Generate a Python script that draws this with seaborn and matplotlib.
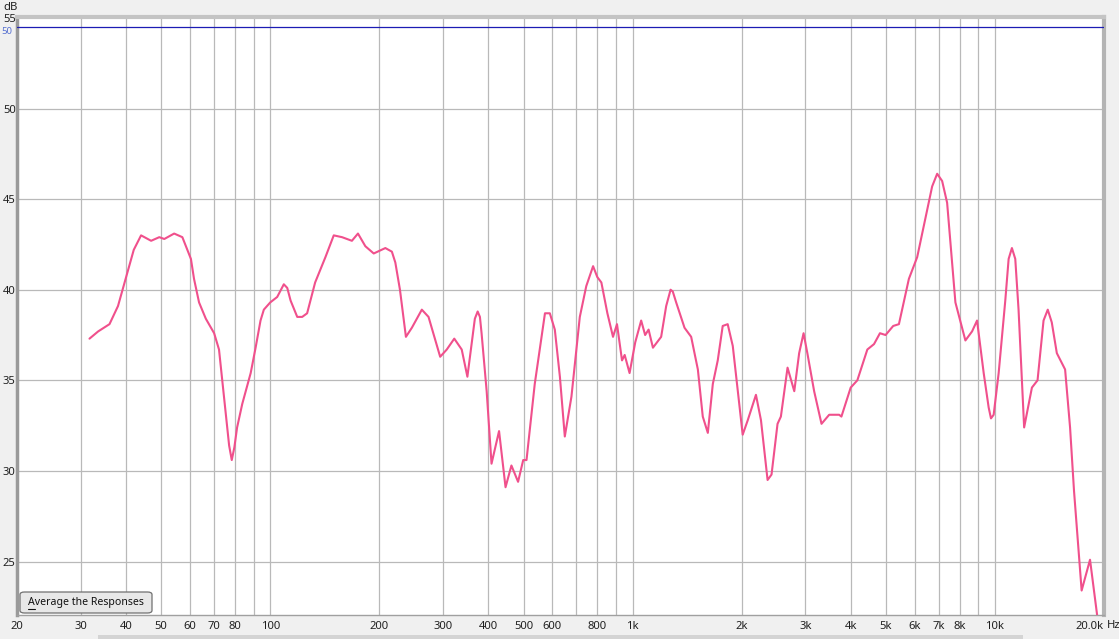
import numpy as np
import pandas as pd
import matplotlib
matplotlib.use("Agg")
import matplotlib.pyplot as plt
import seaborn as sns
from matplotlib.patches import FancyBboxPatch, Rectangle
from matplotlib.lines import Line2D
from matplotlib.ticker import FixedLocator

# ---- data ----
freq_hz = [31.7, 33.5, 36, 38, 40, 42, 44, 46.9, 49.4, 51, 54.3, 57.2, 60.4, 61.6, 63.6,
           66.4, 70, 72.2, 75.4, 77, 78.3, 79.6, 81, 83.7, 88.3, 91.1, 94, 96, 100,
           104.5, 109, 111.4, 113.8, 118.7, 122.5, 126.4, 133, 142, 149.7, 157.8, 168,
           174.6, 183, 193, 207.8, 216.6, 221.4, 228, 236.8, 245.9, 262, 273.4, 294.4,
           307, 322, 337.6, 350, 367, 373.6, 379, 383, 395.6, 408, 428, 446, 463, 483,
           499, 509.6, 537, 573, 591, 610, 630, 650, 678, 715, 745, 778, 799, 820, 852,
           883, 905.6, 935, 951, 981, 1017, 1056, 1083, 1107, 1138, 1199, 1238, 1273,
           1291, 1319, 1391, 1451, 1514, 1562, 1613, 1665, 1718, 1773, 1830, 1890, 2013,
           2079, 2190, 2261, 2358, 2418, 2512, 2566, 2677, 2794, 2882, 2964, 3036, 3170,
           3322, 3488, 3716, 3770, 3999, 4171, 4445, 4638, 4816, 4991, 5239, 5433, 5788,
           6102, 6502, 6710, 6928, 7150, 7380, 7779, 8289, 8648, 8926, 9311, 9610, 9752,
           9920, 10240, 10680, 10910, 11140, 11380, 11620, 12040, 12650, 13110, 13620,
           13990, 14350, 14820, 15620, 16120, 16530, 17350, 18300, 19300]
spl_db = [37.3, 37.7, 38.1, 39.1, 40.7, 42.2, 43.0, 42.7, 42.9, 42.8, 43.1, 42.9, 41.7,
          40.6, 39.3, 38.4, 37.6, 36.7, 33.1, 31.4, 30.6, 31.3, 32.4, 33.7, 35.4, 36.8,
          38.3, 38.9, 39.3, 39.6, 40.3, 40.1, 39.4, 38.5, 38.5, 38.7, 40.4, 41.8, 43.0,
          42.9, 42.7, 43.1, 42.4, 42.0, 42.3, 42.1, 41.5, 40.0, 37.4, 37.9, 38.9, 38.5,
          36.3, 36.7, 37.3, 36.7, 35.2, 38.4, 38.8, 38.5, 37.6, 34.4, 30.4, 32.2, 29.1,
          30.3, 29.4, 30.6, 30.6, 34.8, 38.7, 38.7, 37.8, 35.2, 31.9, 34.1, 38.5, 40.2,
          41.3, 40.7, 40.4, 38.7, 37.4, 38.1, 36.1, 36.4, 35.4, 37.1, 38.3, 37.5, 37.8,
          36.8, 37.4, 39.1, 40.0, 39.9, 39.3, 37.9, 37.4, 35.6, 33.0, 32.1, 34.8, 36.1,
          38.0, 38.1, 36.9, 32.0, 32.8, 34.2, 32.8, 29.5, 29.8, 32.6, 33.0, 35.7, 34.4,
          36.5, 37.6, 36.5, 34.4, 32.6, 33.1, 33.1, 33.0, 34.6, 35.0, 36.7, 37.0, 37.6,
          37.5, 38.0, 38.1, 40.6, 41.8, 44.4, 45.7, 46.4, 46.0, 44.8, 39.3, 37.2, 37.7,
          38.3, 35.4, 33.5, 32.9, 33.1, 35.4, 39.4, 41.7, 42.3, 41.7, 38.9, 32.4, 34.6,
          35.0, 38.3, 38.9, 38.2, 36.5, 35.6, 32.4, 28.9, 23.4, 25.1, 21.5]

x_tick_vals = [20, 30, 40, 50, 60, 70, 80, 100, 200, 300, 400, 500, 600, 800, 1000,
               2000, 3000, 4000, 5000, 6000, 7000, 8000, 10000, 20000]
x_tick_labels = ["20", "30", "40", "50", "60", "70", "80", "100", "200", "300", "400",
                 "500", "600", "800", "1k", "2k", "3k", "4k", "5k", "6k", "7k", "8k",
                 "10k", "20.0k"]
y_tick_vals = [25, 30, 35, 40, 45, 50, 55]
target_level = 54.5

df = pd.DataFrame({"freq": freq_hz, "spl": spl_db})

sns.set_style("white")
plt.rcParams["font.family"] = ["Noto Sans", "DejaVu Sans"]

FS = 8.1
TXT = "#202020"

# ---- figure ----
W, H = 1119, 639
fig = plt.figure(figsize=(W / 100, H / 100), dpi=100)
fig.patch.set_facecolor("#f0f0f0")

L, R, T, B = 17, 1104, 17, 615
ax = fig.add_axes([L / W, 1 - B / H, (R - L) / W, (B - T) / H])
ax.set_facecolor("white")

sns.lineplot(data=df, x="freq", y="spl", ax=ax, color="#f0508c", linewidth=1.5,
             solid_joinstyle="round", solid_capstyle="round", zorder=5)
ax.axhline(target_level, color="#1c1cb4", linewidth=0.9, zorder=4)

ax.set_xscale("log")
ax.set_xlim(20, 20000)
ax.set_ylim(22.05, 55.05)

# grid lines
minor_grid = [f for dec in (10, 100, 1000) for f in range(2 * dec, 10 * dec + 1, dec)]
minor_grid = [f for f in minor_grid if 20 < f < 20000]
for f in minor_grid:
    ax.axvline(f, color="#b9b9b9", linewidth=0.9, zorder=1)
for v in y_tick_vals:
    if v < 55:
        ax.axhline(v, color="#b9b9b9", linewidth=0.9, zorder=1)

ax.xaxis.set_major_locator(FixedLocator(x_tick_vals))
ax.xaxis.set_minor_locator(FixedLocator([]))
ax.set_xticklabels(x_tick_labels)
ax.set_yticks(y_tick_vals)
ax.set_yticklabels([str(v) for v in y_tick_vals])
ax.tick_params(axis="both", length=0, labelsize=FS, colors=TXT)
ax.tick_params(axis="x", pad=4.2)
ax.tick_params(axis="y", pad=1)
ax.set_xlabel("")
ax.set_ylabel("")
xl = ax.get_xticklabels()
xl[-1].set_horizontalalignment("right")

for s in ax.spines.values():
    s.set_color("#a0a0a0")
    s.set_linewidth(1.0)
ax.spines["top"].set_linewidth(3.0)
ax.spines["top"].set_color("#c4c4c4")
ax.spines["right"].set_linewidth(3.0)
ax.spines["right"].set_color("#b4b4b4")
ax.spines["left"].set_linewidth(2.5)
ax.spines["left"].set_color("#9a9a9a")

# texts
fig.text(3 / W, 1 - 7 / H, "dB", fontsize=FS, color=TXT, va="center", ha="left")
fig.text(1 / W, 1 - 31 / H, "50", fontsize=FS - 1.2, color="#3050c8", va="center",
         ha="left", alpha=0.8)
fig.text(1107 / W, 1 - 626 / H, "Hz", fontsize=FS, color=TXT, va="center", ha="left")

# button
btn = FancyBboxPatch((20 / W, 1 - 613 / H), 132 / W, 21 / H,
                     boxstyle="round,pad=0,rounding_size=0.004",
                     transform=fig.transFigure, facecolor="#e8e8e8",
                     edgecolor="#707070", linewidth=0.9, zorder=10)
fig.add_artist(btn)
fig.text(28 / W, 1 - 603 / H, "Average the Responses", fontsize=7.6, color="#101010",
         ha="left", va="center", zorder=11)
fig.add_artist(Line2D([28 / W, 35 / W], [1 - 609 / H, 1 - 609 / H],
                      transform=fig.transFigure, color="#101010", linewidth=0.8, zorder=11))

# scroll bar hint at the bottom
fig.add_artist(Rectangle((98 / W, 0), (1023 - 98) / W, 4 / H, transform=fig.transFigure,
                         facecolor="#d4d4d4", edgecolor="none"))

fig.savefig("out.png", dpi=100, facecolor=fig.get_facecolor())
